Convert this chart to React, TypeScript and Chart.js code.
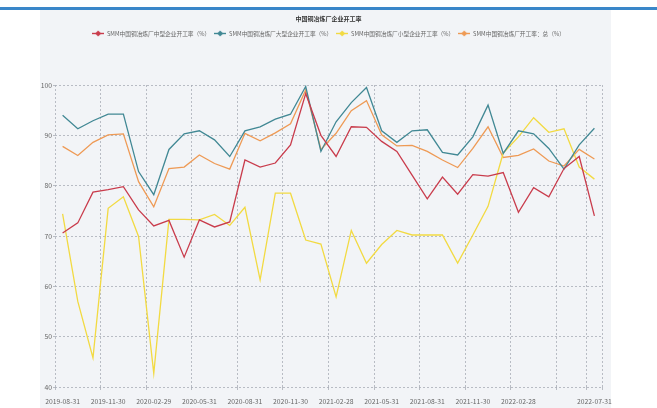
import React, { useEffect, useRef } from 'react';
import { Chart, registerables } from 'chart.js';

Chart.register(...registerables);

const categories = [
  '2019-08-31', '2019-09-30', '2019-10-31', '2019-11-30', '2019-12-31',
  '2020-01-31', '2020-02-29', '2020-03-31', '2020-04-30', '2020-05-31', '2020-06-30', '2020-07-31',
  '2020-08-31', '2020-09-30', '2020-10-31', '2020-11-30', '2020-12-31',
  '2021-01-31', '2021-02-28', '2021-03-31', '2021-04-30', '2021-05-31', '2021-06-30', '2021-07-31',
  '2021-08-31', '2021-09-30', '2021-10-31', '2021-11-30', '2021-12-31',
  '2022-01-31', '2022-02-28', '2022-03-31', '2022-04-30', '2022-05-31', '2022-06-30', '2022-07-31',
];

const shownTickLabels = [
  '2019-08-31', '2019-11-30', '2020-02-29', '2020-05-31', '2020-08-31', '2020-11-30',
  '2021-02-28', '2021-05-31', '2021-08-31', '2021-11-30', '2022-02-28', '2022-07-31',
];

const mediumRate = [
  70.6, 72.6, 78.7, 79.2, 79.8, 75.2, 72.0, 73.1, 65.8, 73.2, 71.8, 72.8,
  85.1, 83.7, 84.5, 88.1, 98.3, 90.0, 85.8, 91.7, 91.6, 88.8, 86.8, 82.1,
  77.4, 81.7, 78.3, 82.2, 81.9, 82.6, 74.7, 79.6, 77.8, 83.4, 85.8, 74.0,
];

const largeRate = [
  94.0, 91.3, 92.9, 94.2, 94.2, 82.8, 78.2, 87.2, 90.3, 90.9, 89.1, 85.8,
  90.9, 91.7, 93.2, 94.2, 99.7, 86.8, 92.7, 96.5, 99.5, 90.9, 88.6, 90.9,
  91.1, 86.6, 86.1, 89.7, 96.0, 86.4, 90.9, 90.3, 87.4, 83.3, 88.1, 91.4,
];

const smallRate = [
  74.4, 57.0, 45.8, 75.5, 77.8, 69.9, 42.7, 73.3, 73.3, 73.2, 74.3, 72.1,
  75.7, 61.3, 78.5, 78.5, 69.2, 68.4, 57.9, 71.1, 64.6, 68.3, 71.1, 70.2,
  70.2, 70.2, 64.6, 70.2, 75.9, 86.5, 89.7, 93.5, 90.6, 91.3, 83.7, 81.3,
];

const totalRate = [
  87.8, 86.0, 88.6, 90.1, 90.3, 80.8, 75.8, 83.4, 83.7, 86.1, 84.4, 83.3,
  90.4, 88.9, 90.5, 92.3, 99.0, 87.2, 90.4, 94.9, 96.9, 90.1, 87.9, 88.0,
  86.8, 85.1, 83.6, 87.4, 91.7, 85.6, 86.0, 87.3, 84.9, 83.9, 87.2, 85.3,
];

const seriesNames = [
  'SMM中国铜冶炼厂中型企业开工率（%）',
  'SMM中国铜冶炼厂大型企业开工率（%）',
  'SMM中国铜冶炼厂小型企业开工率（%）',
  'SMM中国铜冶炼厂开工率：总（%）',
];

const chartTitle = '中国铜冶炼厂企业开工率';

const seriesColors = ['#c93c4c', '#418894', '#f2da42', '#ee9a55'];

export default function App() {
  const ref = useRef<HTMLCanvasElement>(null);

  useEffect(() => {
    const font = '"Noto Sans CJK SC", "Noto Sans", sans-serif';
    const gridColor = '#a9aeb6';

    const makeIcon = (color: string) => {
      const c = document.createElement('canvas');
      c.width = 12;
      c.height = 7;
      const g = c.getContext('2d')!;
      g.strokeStyle = color;
      g.lineWidth = 1.4;
      g.beginPath();
      g.moveTo(0, 3.5);
      g.lineTo(12, 3.5);
      g.stroke();
      g.fillStyle = color;
      g.beginPath();
      g.moveTo(6, 0.5);
      g.lineTo(9, 3.5);
      g.lineTo(6, 6.5);
      g.lineTo(3, 3.5);
      g.closePath();
      g.fill();
      return c;
    };

    const values = [mediumRate, largeRate, smallRate, totalRate];
    const lastIdx = categories.length - 1;

    const xGridColor = (ctx: any) => {
      if (ctx.type !== 'tick') return gridColor;
      return ctx.index % 3 === 0 || ctx.index === lastIdx ? gridColor : 'rgba(0,0,0,0)';
    };

    const chart = new Chart(ref.current!, {
      type: 'line',
      data: {
        labels: categories,
        datasets: values.map((v, i) => ({
          label: seriesNames[i],
          data: v,
          borderColor: seriesColors[i],
          backgroundColor: seriesColors[i],
          borderWidth: 1.3,
          pointRadius: 0,
          pointHoverRadius: 0,
          pointStyle: makeIcon(seriesColors[i]) as any,
          tension: 0,
          fill: false,
        })),
      },
      options: {
        animation: false,
        responsive: false,
        maintainAspectRatio: false,
        layout: { padding: { left: 0, right: 30, top: 0, bottom: 0 } },
        plugins: {
          title: {
            display: true,
            text: chartTitle,
            fullSize: false,
            color: '#333',
            font: { family: font, size: 6, weight: 'bold' },
            padding: { top: 5.4, bottom: 4 },
          },
          legend: {
            display: true,
            fullSize: false,
            labels: {
              usePointStyle: true,
              pointStyleWidth: 12,
              padding: 4,
              color: '#666',
              font: { family: font, size: 5.7 },
            },
          },
          subtitle: {
            display: true,
            text: '',
            fullSize: false,
            weight: 500,
            font: { size: 1 },
            padding: { top: 0, bottom: 37.5 },
          } as any,
          tooltip: { enabled: false },
        },
        scales: {
          x: {
            type: 'category',
            offset: true,
            grid: {
              offset: true,
              color: xGridColor,
              tickColor: xGridColor,
              lineWidth: 0.8,
              tickLength: 3,
            },
            border: { display: false, dash: [2, 2] },
            ticks: {
              autoSkip: false,
              maxRotation: 0,
              minRotation: 0,
              padding: 7,
              color: '#666',
              font: { family: font, size: 6.8 },
              callback: function (this: any, _v: any, index: number) {
                const lab = categories[index];
                return shownTickLabels.includes(lab) ? lab : '';
              },
            },
            afterFit: (scale: any) => {
              scale.height = 21;
            },
          },
          y: {
            min: 40,
            max: 100,
            grid: {
              color: gridColor,
              tickColor: gridColor,
              lineWidth: 0.8,
              tickLength: 2,
            },
            border: { display: false, dash: [2, 2] },
            ticks: {
              stepSize: 10,
              padding: 1,
              color: '#666',
              font: { family: font, size: 6.8 },
            },
            afterFit: (scale: any) => {
              scale.width = 20;
            },
          },
        },
      },
    });
    return () => chart.destroy();
  }, []);

  return (
    <div style={{ position: 'absolute', left: 0, top: 0, width: 657, height: 408, background: '#fff', overflow: 'hidden' }}>
      <div style={{ position: 'absolute', left: 0, top: 7, width: 657, height: 3, background: '#3a87c9' }} />
      <div style={{ position: 'absolute', left: 40, top: 10, width: 571, height: 398, background: '#f2f4f7' }} />
      <canvas
        ref={ref}
        width={597}
        height={398}
        style={{ position: 'absolute', left: 35, top: 10, width: 597, height: 398 }}
      />
    </div>
  );
}
